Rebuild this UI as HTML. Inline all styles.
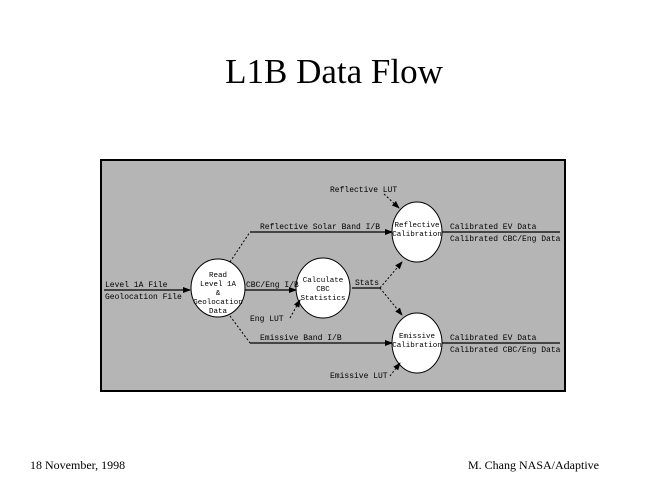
<!DOCTYPE html>
<html><head><style>
html,body{margin:0;padding:0;background:#fff;}
body{width:668px;height:496px;position:relative;overflow:hidden;font-family:"Liberation Serif",serif;}
.t{position:absolute;width:668px;text-align:center;top:52px;font-size:35px;}
.f{position:absolute;top:458px;font-size:12px;}
</style></head><body>
<div class="t">L1B Data Flow</div>
<svg style="position:absolute;left:0;top:0" width="668" height="496">
<defs><marker id="a" markerWidth="8" markerHeight="8" refX="7" refY="4" orient="auto" markerUnits="userSpaceOnUse"><path d="M0,1 L8,4 L0,7z" fill="#000"/></marker></defs>
<rect x="101" y="160" width="464" height="231" fill="#b5b5b5" stroke="#000" stroke-width="2"/>
<g fill="#fff" stroke="#000" stroke-width="1">
<ellipse cx="218" cy="288" rx="27" ry="29"/>
<ellipse cx="323" cy="288" rx="27" ry="30"/>
<ellipse cx="417" cy="232" rx="25" ry="30"/>
<ellipse cx="417" cy="343" rx="25" ry="30"/>
</g>
<g stroke="#000" stroke-width="1.3" fill="none">
<line x1="104" y1="290" x2="190" y2="290" marker-end="url(#a)"/>
<line x1="245" y1="290" x2="296" y2="290" marker-end="url(#a)"/>
<line x1="250" y1="232" x2="392" y2="232" marker-end="url(#a)"/>
<line x1="250" y1="343" x2="392" y2="343" marker-end="url(#a)"/>
<line x1="352" y1="288" x2="380" y2="288"/>
<line x1="442" y1="232" x2="560" y2="232"/>
<line x1="442" y1="343" x2="560" y2="343"/>
</g>
<g stroke="#000" stroke-width="1" stroke-dasharray="2,2" fill="none">
<line x1="230" y1="262" x2="250" y2="232"/>
<line x1="230" y1="316" x2="250" y2="343"/>
<line x1="380" y1="288" x2="402" y2="262" marker-end="url(#a)"/>
<line x1="380" y1="288" x2="402" y2="315" marker-end="url(#a)"/>
<line x1="290" y1="318" x2="300" y2="300" marker-end="url(#a)"/>
<line x1="384" y1="194" x2="399" y2="208" marker-end="url(#a)"/>
<line x1="390" y1="376" x2="400" y2="363" marker-end="url(#a)"/>
</g>
<g font-family="Liberation Mono,monospace" font-size="8" fill="#000">
<text x="105" y="287">Level 1A File</text>
<text x="105" y="299">Geolocation File</text>
<g text-anchor="middle" font-size="7.5">
<text x="218" y="277">Read</text>
<text x="218" y="286">Level 1A</text>
<text x="218" y="295">&amp;</text>
<text x="218" y="304">Geolocation</text>
<text x="218" y="313">Data</text>
<text x="323" y="282">Calculate</text>
<text x="323" y="291">CBC</text>
<text x="323" y="300">Statistics</text>
<text x="417" y="227">Reflective</text>
<text x="417" y="236">Calibration</text>
<text x="417" y="338">Emissive</text>
<text x="417" y="347">Calibration</text>
</g>
<text x="246" y="287">CBC/Eng I/B</text>
<text x="250" y="321">Eng LUT</text>
<text x="260" y="229">Reflective Solar Band I/B</text>
<text x="260" y="340">Emissive Band I/B</text>
<text x="355" y="285">Stats</text>
<text x="330" y="192">Reflective LUT</text>
<text x="330" y="378">Emissive LUT</text>
<text x="450" y="229">Calibrated EV Data</text>
<text x="450" y="241">Calibrated CBC/Eng Data</text>
<text x="450" y="340">Calibrated EV Data</text>
<text x="450" y="352">Calibrated CBC/Eng Data</text>
</g>
</svg>
<div class="f" style="left:30px">18 November, 1998</div>
<div class="f" style="left:468px">M. Chang NASA/Adaptive</div>
</body></html>
